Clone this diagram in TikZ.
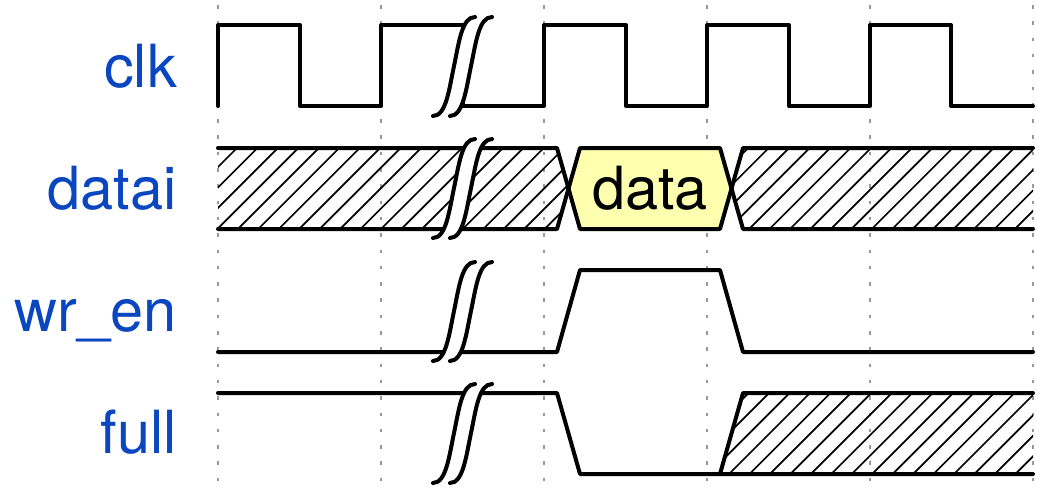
\documentclass[tikz,border=0pt]{standalone}
\usepackage{fontspec}
\setmainfont{TeX Gyre Heros}
\definecolor{labelblue}{HTML}{0A46C0}
\definecolor{datayellow}{HTML}{FFFFB0}
\tikzset{
  signal/.style={line width=4pt,line join=round,line cap=round},
  gridline/.style={gray!80,line width=2.2pt,dash pattern=on 3.5pt off 12.8pt},
  hatchline/.style={line width=1.7pt},
  signame/.style={anchor=base east,inner sep=0pt,text=labelblue,font=\fontsize{59.5}{60}\selectfont},
}
\begin{document}
\begin{tikzpicture}[x=1pt,y=-1pt]
      \useasboundingbox (0,0) rectangle (1037,491);
      % grid
      \foreach \x in {218,381,544,707,870,1033}
        \draw[gridline] (\x,5) -- (\x,484);
      % hatching
      \begin{scope}
        \clip (218,148) -- (557,148) -- (568.5,188.5) -- (557,229) -- (218,229) -- cycle
              (731.5,188.5) -- (743,148) -- (1033,148) -- (1033,229) -- (743,229) -- cycle
              (720,474) -- (743,393) -- (1033,393) -- (1033,474) -- cycle;
        \foreach \k in {-1,...,56} {
          \pgfmathsetmacro{\s}{385+20.45*\k}
          \draw[hatchline] (\s-130,130) -- (\s-490,490);
        }
      \end{scope}
      \fill[datayellow] (568.5,188.5) -- (580,148) -- (720,148) -- (731.5,188.5) -- (720,229) -- (580,229) -- cycle;
      % clk
      \draw[signal] (218,106) -- (218,25) -- (300,25) -- (300,106) -- (381,106) -- (381,25) -- (463,25) -- (463,106) -- (544,106) -- (544,25) -- (626,25) -- (626,106) -- (707,106) -- (707,25) -- (789,25) -- (789,106) -- (870,106) -- (870,25) -- (951,25) -- (951,106) -- (1033,106);
      % datai
      \draw[signal] (218,148) -- (557,148) -- (580,229) -- (720,229) -- (743,148) -- (1033,148);
      \draw[signal] (218,229) -- (557,229) -- (580,148) -- (720,148) -- (743,229) -- (1033,229);
      % wr_en
      \draw[signal] (218,352) -- (557,352) -- (580,270) -- (720,270) -- (743,352) -- (1033,352);
      % full
      \draw[signal] (218,393) -- (557,393) -- (580,474) -- (1033,474);
      \draw[signal] (720,474) -- (743,393) -- (1033,393);
      % breaks
      \foreach \y in {0,122,245,367} {
        \fill[white] (433,116+\y) .. controls (446,116+\y) and (449,90+\y) .. (454,66+\y) .. controls (459,42+\y) and (462,17+\y) .. (475,17+\y)
          -- (492,17+\y) .. controls (479,17+\y) and (476,42+\y) .. (471,66+\y) .. controls (466,90+\y) and (463,116+\y) .. (450,116+\y) -- cycle;
        \draw[signal] (433,116+\y) .. controls (446,116+\y) and (449,90+\y) .. (454,66+\y) .. controls (459,42+\y) and (462,17+\y) .. (475,17+\y);
        \draw[signal] (450,116+\y) .. controls (463,116+\y) and (466,90+\y) .. (471,66+\y) .. controls (476,42+\y) and (479,17+\y) .. (492,17+\y);
      }
      % labels
      \node[signame] (clk) at (177,87) {clk};
      \node[signame] (datai) at (177,209) {datai};
      \node[signame] (wren) at (177,331.5) {wr\_en};
      \node[signame] (full) at (177,453) {full};
      \node[anchor=base,inner sep=0pt,font=\fontsize{59.5}{60}\selectfont] (data) at (650,209) {data};
    \end{tikzpicture}
\end{document}
